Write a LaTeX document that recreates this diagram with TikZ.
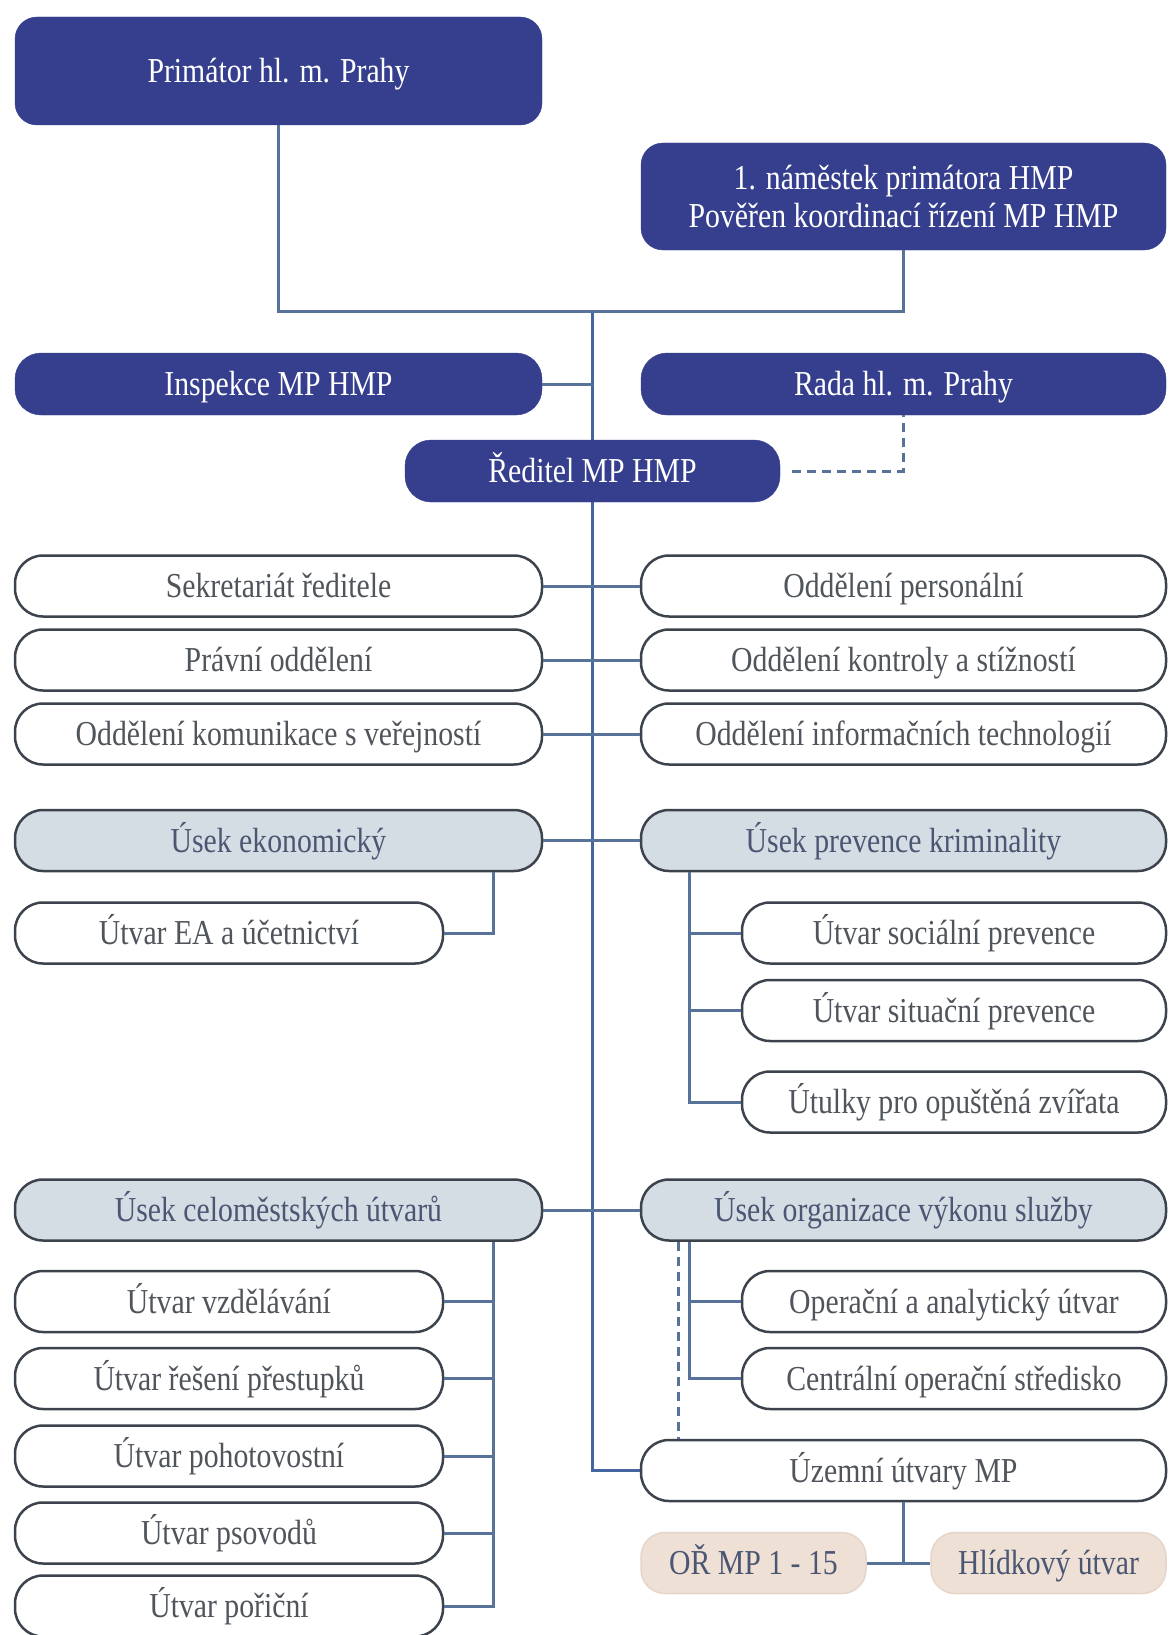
\documentclass[tikz,border=0pt]{standalone}
\usepackage{fontspec}
\setmainfont{Liberation Serif}[FakeStretch=0.85]
\definecolor{navyc}{HTML}{353F8E}
\definecolor{bordc}{HTML}{3D434C}
\definecolor{secc}{HTML}{D4DCE4}
\definecolor{beigec}{HTML}{EFE0D6}
\definecolor{beigeb}{HTML}{E6D5C9}
\definecolor{textc}{HTML}{50555C}
\definecolor{sectext}{HTML}{4B5672}
\definecolor{connc}{HTML}{58739A}
\definecolor{trunkc}{HTML}{4565A0}
\begin{document}
\begin{tikzpicture}[x=1pt,y=-1pt,
  every node/.style={font=\fontsize{35}{38}\selectfont, inner sep=0pt, align=center},
  oneline/.style={text height=28pt, text depth=5pt},
  navybox/.style={rectangle, rounded corners=22pt, fill=navyc, draw=navyc, text=white},
  wbox/.style={oneline, rectangle, rounded corners=28pt, fill=white, draw=bordc, line width=2.5pt, text=textc, minimum height=61pt},
  sbox/.style={wbox, fill=secc, text=sectext},
  bbox/.style={oneline, rectangle, rounded corners=24pt, fill=beigec, draw=beigeb, line width=1.5pt, text=sectext, minimum height=61pt},
  wide/.style={minimum width=527pt},
  narrow/.style={minimum width=424pt},
  conn/.style={draw=connc, line width=3pt},
  trunk/.style={draw=trunkc, line width=2.2pt},
  dconn/.style={draw=connc, line width=3pt, dashed, dash pattern=on 9pt off 6pt}
]
\clip (0,0) rectangle (1168,1635);
\fill[white] (0,0) rectangle (1168,1635);

% top
\node[navybox, oneline, minimum width=527pt, minimum height=108pt] (prim) at (278.5,71) {Primátor hl. m. Prahy};
\node[navybox, minimum width=525pt, minimum height=107pt] (nam) at (903.5,196.5) {1. náměstek primátora HMP\\Pověřen koordinací řízení MP HMP};
\node[navybox, oneline, minimum width=527pt, minimum height=62pt, rounded corners=26pt] (insp) at (278.5,384) {Inspekce MP HMP};
\node[navybox, oneline, minimum width=525pt, minimum height=62pt, rounded corners=26pt] (rada) at (903.5,384) {Rada hl. m. Prahy};
\coordinate (j) at (592.5,311);

% trunk (drawn before the boxes)
\draw[trunk] (j) |- (641,1470.5);
\draw[conn] (prim.south) |- (j) -| (nam.south);
\draw[conn] (insp.east) -- (insp.east -| j);

\node[navybox, oneline, minimum width=375pt, minimum height=62pt, rounded corners=26pt] (red) at (592.5,471) {Ředitel MP HMP};
\draw[dconn] ([xshift=12pt]red.east) -| (rada.south);

% staff rows
\node[wbox, wide] (l1) at (278.5,586) {Sekretariát ředitele};
\node[wbox, wide] (l2) at (278.5,660) {Právní oddělení};
\node[wbox, wide] (l3) at (278.5,734) {Oddělení komunikace s veřejností};
\node[wbox, minimum width=525pt] (r1) at (903.5,586) {Oddělení personální};
\node[wbox, minimum width=525pt] (r2) at (903.5,660) {Oddělení kontroly a stížností};
\node[wbox, minimum width=525pt] (r3) at (903.5,734) {Oddělení informačních technologií};
\draw[conn] (l1.east) -- (r1.west);
\draw[conn] (l2.east) -- (r2.west);
\draw[conn] (l3.east) -- (r3.west);

% economic & prevention
\node[sbox, wide] (ekon) at (278.5,840.5) {Úsek ekonomický};
\node[sbox, minimum width=525pt] (prev) at (903.5,840.5) {Úsek prevence kriminality};
\draw[conn] (ekon.east) -- (prev.west);
\node[wbox, minimum width=428pt] (ea) at (229,933) {Útvar EA a účetnictví};
\draw[conn] (ea.east) -| ([xshift=-50pt]ekon.south east);

\node[wbox, narrow] (p1) at (954,933) {Útvar sociální prevence};
\node[wbox, narrow] (p2) at (954,1010.5) {Útvar situační prevence};
\node[wbox, narrow] (p3) at (954,1102) {Útulky pro opuštěná zvířata};
\coordinate (pb) at ([xshift=50pt]prev.south west);
\draw[conn] (pb) |- (p3.west);
\draw[conn] (p1.west) -- (p1.west -| pb);
\draw[conn] (p2.west) -- (p2.west -| pb);

% city-wide & service organisation
\node[sbox, wide] (celo) at (278.5,1210) {Úsek celoměstských útvarů};
\node[sbox, minimum width=525pt] (org) at (903.5,1210) {Úsek organizace výkonu služby};
\draw[conn] (celo.east) -- (org.west);

\node[wbox, minimum width=428pt] (c1) at (229,1301.5) {Útvar vzdělávání};
\node[wbox, minimum width=428pt] (c2) at (229,1378.5) {Útvar řešení přestupků};
\node[wbox, minimum width=428pt] (c3) at (229,1456) {Útvar pohotovostní};
\node[wbox, minimum width=428pt] (c4) at (229,1533) {Útvar psovodů};
\node[wbox, minimum width=428pt] (c5) at (229,1606) {Útvar pořiční};
\coordinate (cb) at ([xshift=-50pt]celo.south east);
\draw[conn] (cb) |- (c5.east);
\foreach \n in {c1,c2,c3,c4} \draw[conn] (\n.east) -- (\n.east -| cb);

\node[wbox, narrow] (o1) at (954,1301.5) {Operační a analytický útvar};
\node[wbox, narrow] (o2) at (954,1378.5) {Centrální operační středisko};
\coordinate (ob) at ([xshift=50pt]org.south west);
\draw[conn] (ob) |- (o2.west);
\draw[conn] (o1.west) -- (o1.west -| ob);

\node[wbox, minimum width=525pt] (uz) at (903.5,1470.5) {Územní útvary MP};
\draw[dconn] ([xshift=39pt]org.south west) -- ([xshift=39pt]uz.north west);

\node[bbox, minimum width=225pt] (or) at (753.5,1563) {OŘ MP 1 - 15};
\node[bbox, minimum width=235pt] (hl) at (1048.5,1563) {Hlídkový útvar};
\draw[conn] (uz.south) -- (uz.south |- or.east);
\draw[conn] (or.east) -- (hl.west);
\end{tikzpicture}
\end{document}
